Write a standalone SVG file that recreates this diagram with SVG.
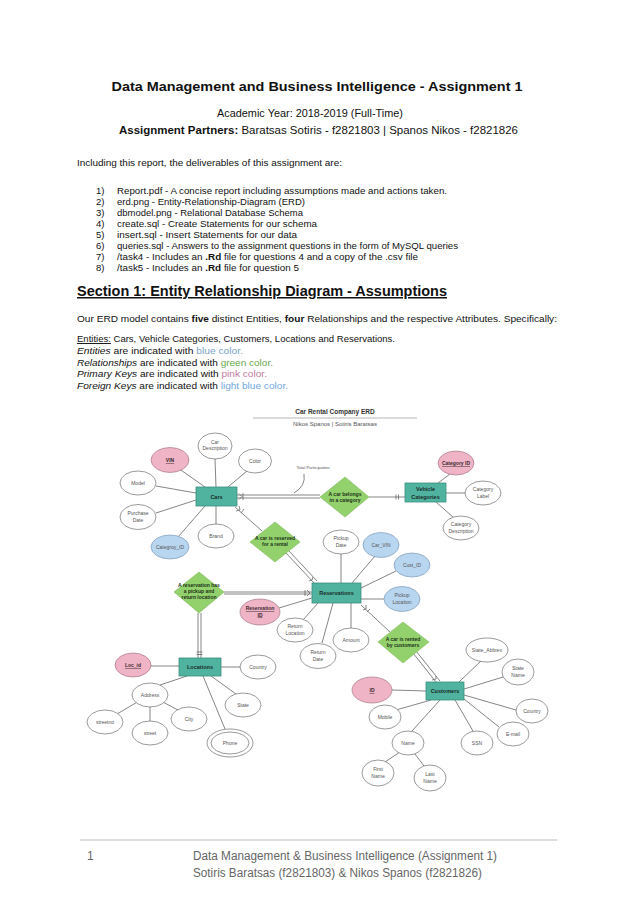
<svg xmlns="http://www.w3.org/2000/svg" width="638" height="903" viewBox="0 0 638 903">
<style>
.t{font-family:"Liberation Sans",Arial,sans-serif;fill:#111}
.b{font-weight:bold}
.li{font-size:9.5px}
.ft{font-family:"Liberation Sans",Arial,sans-serif;fill:#666;font-size:12px}
.ent rect{fill:#4fb3a0;stroke:#3d8f80;stroke-width:0.8}
.ent text{font-family:"Liberation Sans",Arial,sans-serif;font-size:5.5px;font-weight:bold;fill:#1c2b28;text-anchor:middle}
.rel polygon{fill:#93d16c;stroke:#7fbb5a;stroke-width:0.6}
.rel text{font-family:"Liberation Sans",Arial,sans-serif;font-size:5px;font-weight:bold;fill:#20301a;text-anchor:middle}
.att ellipse{fill:#fff;stroke:#555;stroke-width:0.6}
.att text{font-family:"Liberation Sans",Arial,sans-serif;font-size:5px;fill:#555;text-anchor:middle}
.pk ellipse{fill:#f0b4c7;stroke:#9a6a7a}
.pk text{font-weight:bold;fill:#3a2a2f;text-decoration:underline}
.fk ellipse{fill:#b9d6f0;stroke:#6d8fae}
#conn line,#conn path{stroke:#666;stroke-width:0.8;fill:none}
</style>
<rect width="638" height="903" fill="#fff"/>

<g id="header">
<text class="t b" x="317" y="91" font-size="13" text-anchor="middle" textLength="411" lengthAdjust="spacingAndGlyphs">Data Management and Business Intelligence - Assignment 1</text>
<text class="t" x="310" y="116.5" font-size="10.5" text-anchor="middle" textLength="186" lengthAdjust="spacingAndGlyphs">Academic Year: 2018-2019 (Full-Time)</text>
<text class="t" x="119" y="134" font-size="10.5" textLength="399" lengthAdjust="spacingAndGlyphs"><tspan font-weight="bold">Assignment Partners:</tspan> Baratsas Sotiris - f2821803 | Spanos Nikos - f2821826</text>
</g>

<g id="deliverables">
<text class="t li" x="77" y="166" textLength="265" lengthAdjust="spacingAndGlyphs">Including this report, the deliverables of this assignment are:</text>
<text class="t li" x="96" y="194">1)</text>
<text class="t li" x="96" y="205">2)</text>
<text class="t li" x="96" y="216">3)</text>
<text class="t li" x="96" y="227">4)</text>
<text class="t li" x="96" y="238">5)</text>
<text class="t li" x="96" y="249">6)</text>
<text class="t li" x="96" y="260">7)</text>
<text class="t li" x="96" y="271">8)</text>
<text class="t li" x="117" y="194" textLength="330" lengthAdjust="spacingAndGlyphs">Report.pdf - A concise report including assumptions made and actions taken.</text>
<text class="t li" x="117" y="205" textLength="188" lengthAdjust="spacingAndGlyphs">erd.png - Entity-Relationship-Diagram (ERD)</text>
<text class="t li" x="117" y="216" textLength="186" lengthAdjust="spacingAndGlyphs">dbmodel.png - Relational Database Schema</text>
<text class="t li" x="117" y="227" textLength="200" lengthAdjust="spacingAndGlyphs">create.sql - Create Statements for our schema</text>
<text class="t li" x="117" y="238" textLength="180" lengthAdjust="spacingAndGlyphs">insert.sql - Insert Statements for our data</text>
<text class="t li" x="117" y="249" textLength="341" lengthAdjust="spacingAndGlyphs">queries.sql - Answers to the assignment questions in the form of MySQL queries</text>
<text class="t li" x="117" y="260" textLength="301" lengthAdjust="spacingAndGlyphs">/task4 - Includes an <tspan font-weight="bold">.Rd</tspan> file for questions 4 and a copy of the .csv file</text>
<text class="t li" x="117" y="271" textLength="182" lengthAdjust="spacingAndGlyphs">/task5 - Includes an <tspan font-weight="bold">.Rd</tspan> file for question 5</text>
</g>

<g id="section1">
<text class="t b" x="77" y="296" font-size="15" textLength="370" lengthAdjust="spacingAndGlyphs" text-decoration="underline">Section 1: Entity Relationship Diagram - Assumptions</text>
<text class="t li" x="77" y="322" textLength="480" lengthAdjust="spacingAndGlyphs">Our ERD model contains <tspan font-weight="bold">five</tspan> distinct Entities, <tspan font-weight="bold">four</tspan> Relationships and the respective Attributes. Specifically:</text>
<text class="t li" x="77" y="342" textLength="318" lengthAdjust="spacingAndGlyphs"><tspan text-decoration="underline">Entities:</tspan> Cars, Vehicle Categories, Customers, Locations and Reservations.</text>
<text class="t li" x="77" y="354" textLength="166" lengthAdjust="spacingAndGlyphs"><tspan font-style="italic">Entities</tspan> are indicated with <tspan fill="#7aa3c4">blue color.</tspan></text>
<text class="t li" x="77" y="365.5" textLength="196" lengthAdjust="spacingAndGlyphs"><tspan font-style="italic">Relationships</tspan> are indicated with <tspan fill="#6aa84f">green color.</tspan></text>
<text class="t li" x="77" y="377" textLength="190" lengthAdjust="spacingAndGlyphs"><tspan font-style="italic">Primary Keys</tspan> are indicated with <tspan fill="#c27ba0">pink color.</tspan></text>
<text class="t li" x="77" y="388.5" textLength="211" lengthAdjust="spacingAndGlyphs"><tspan font-style="italic">Foreign Keys</tspan> are indicated with <tspan fill="#6fa8dc">light blue color.</tspan></text>
</g>

<g id="erd-title">
<text x="335" y="414" font-family="Liberation Sans, Arial, sans-serif" font-size="6.5" font-weight="bold" fill="#333" text-anchor="middle">Car Rental Company ERD</text>
<line x1="253" y1="418" x2="417" y2="418" stroke="#999" stroke-width="0.7"/>
<text x="335" y="426" font-family="Liberation Sans, Arial, sans-serif" font-size="6" fill="#555" text-anchor="middle">Nikos Spanos  |  Sotiris Baratsas</text>
<text x="313" y="469" font-family="Liberation Sans, Arial, sans-serif" font-size="4.2" fill="#555" text-anchor="middle">Total Participation</text>
</g>

<g id="conn">
<line x1="178" y1="468" x2="205" y2="487"/>
<line x1="215" y1="459" x2="216" y2="487"/>
<line x1="247" y1="471" x2="228" y2="487"/>
<line x1="156" y1="486" x2="196" y2="493"/>
<line x1="156" y1="513" x2="196" y2="500"/>
<line x1="178" y1="537" x2="205" y2="506"/>
<line x1="216" y1="524" x2="216" y2="506"/>
<line x1="450" y1="474" x2="438" y2="483"/>
<line x1="465" y1="493" x2="446" y2="493"/>
<line x1="453" y1="517" x2="436" y2="502"/>
<line x1="341" y1="554" x2="341" y2="583"/>
<line x1="375" y1="556" x2="352" y2="583"/>
<line x1="396" y1="571" x2="361" y2="588"/>
<line x1="384" y1="599" x2="361" y2="599"/>
<line x1="279" y1="608" x2="312" y2="598"/>
<line x1="303" y1="620" x2="318" y2="603"/>
<line x1="322" y1="643" x2="333" y2="603"/>
<line x1="351" y1="628" x2="351" y2="603"/>
<line x1="151" y1="666" x2="179" y2="666"/>
<line x1="240" y1="667" x2="221" y2="667"/>
<line x1="160" y1="685" x2="187" y2="676"/>
<line x1="236" y1="694" x2="211" y2="676"/>
<line x1="225" y1="729" x2="203" y2="676"/>
<line x1="139" y1="701" x2="117" y2="714"/>
<line x1="150" y1="707" x2="150" y2="721"/>
<line x1="161" y1="701" x2="178" y2="710"/>
<line x1="392" y1="690" x2="426" y2="691"/>
<line x1="481" y1="661" x2="459" y2="682"/>
<line x1="503" y1="677" x2="464" y2="689"/>
<line x1="516" y1="710" x2="464" y2="695"/>
<line x1="499" y1="727" x2="464" y2="699"/>
<line x1="473" y1="731" x2="455" y2="700"/>
<line x1="396" y1="710" x2="431" y2="700"/>
<line x1="412" y1="731" x2="440" y2="700"/>
<line x1="400" y1="752" x2="385" y2="762"/>
<line x1="415" y1="754" x2="424" y2="766"/>
<line x1="237" y1="495" x2="320" y2="495"/>
<line x1="237" y1="498" x2="320" y2="498"/>
<path d="M239 493.5 L242 496.5 L239 499.5 M243 493 L243 500"/>
<path d="M304 474 Q306 486 294 493"/>
<line x1="369" y1="497" x2="405" y2="497"/>
<path d="M396 494.5 L396 499.5 M398.5 494.5 L398.5 499.5"/>
<line x1="235" y1="507" x2="262" y2="531"/>
<path d="M236 511 L240 510 L239 506 M241 513 L244 509"/>
<line x1="286" y1="553" x2="314" y2="583"/>
<line x1="289" y1="551" x2="317" y2="581"/>
<path d="M309 581 L312 580 L313 577"/>
<line x1="224" y1="592" x2="312" y2="592"/>
<line x1="224" y1="594" x2="312" y2="594"/>
<path d="M307 590 L310 593 L307 596 M305 590 L305 596"/>
<line x1="198" y1="613" x2="198" y2="658"/>
<line x1="201" y1="613" x2="201" y2="658"/>
<path d="M196.5 652 L202.5 652 M196.5 654.5 L202.5 654.5"/>
<line x1="361" y1="605" x2="390" y2="632"/>
<path d="M363 610 L366 609 L366 605 M367 612 L370 609"/>
<line x1="413" y1="653" x2="436" y2="682"/>
<line x1="416" y1="651" x2="440" y2="681"/>
<path d="M432 680 L436 679 L436 676"/>
</g>

<g id="cars" class="ent"><rect x="196" y="487" width="41" height="19"/><text x="216.5" y="498.5">Cars</text></g>
<g id="vehicle-categories" class="ent"><rect x="405" y="483" width="41" height="19"/><text x="425.5" y="491">Vehicle</text><text x="425.5" y="498.5">Categories</text></g>
<g id="reservations" class="ent"><rect x="312" y="583" width="49" height="20"/><text x="336.5" y="595">Reservations</text></g>
<g id="locations" class="ent"><rect x="179" y="658" width="42" height="18"/><text x="200" y="669">Locations</text></g>
<g id="customers" class="ent"><rect x="426" y="682" width="38" height="18"/><text x="445" y="693">Customers</text></g>

<g id="rel-belongs" class="rel"><polygon points="345,477 369,497 345,517 320,497"/><text x="345" y="495.5">A car belongs</text><text x="345" y="501.5">in a category</text></g>
<g id="rel-reserved" class="rel"><polygon points="275,522 300,542 275,562 250,542"/><text x="275" y="540">A car is reserved</text><text x="275" y="546">for a rental</text></g>
<g id="rel-location" class="rel"><polygon points="199,572 224,592 199,613 174,592"/><text x="199" y="587">A reservation has</text><text x="199" y="593">a pickup and</text><text x="199" y="599">return location</text></g>
<g id="rel-rented" class="rel"><polygon points="403,622 429,642 403,663 378,642"/><text x="403" y="640.5">A car is rented</text><text x="403" y="646.5">by customers</text></g>

<g id="att-vin" class="att pk"><ellipse cx="170" cy="460" rx="19" ry="12.5"/><text x="170" y="462">VIN</text></g>
<g id="att-cardesc" class="att"><ellipse cx="215" cy="446" rx="17" ry="13"/><text x="215" y="444">Car</text><text x="215" y="450">Description</text></g>
<g id="att-color" class="att"><ellipse cx="255" cy="461" rx="16.5" ry="12"/><text x="255" y="463">Color</text></g>
<g id="att-model" class="att"><ellipse cx="138" cy="483" rx="18" ry="12"/><text x="138" y="485">Model</text></g>
<g id="att-purchase" class="att"><ellipse cx="138" cy="517" rx="18" ry="12.5"/><text x="138" y="515">Purchase</text><text x="138" y="521.5">Date</text></g>
<g id="att-catid" class="att fk"><ellipse cx="170" cy="547" rx="19" ry="12"/><text x="170" y="549">Categroy_ID</text></g>
<g id="att-brand" class="att"><ellipse cx="216" cy="536" rx="18" ry="12"/><text x="216" y="538">Brand</text></g>

<g id="att-categoryid" class="att pk"><ellipse cx="456" cy="463" rx="18" ry="12"/><text x="456" y="465">Category ID</text></g>
<g id="att-catlabel" class="att"><ellipse cx="483" cy="493" rx="18" ry="12"/><text x="483" y="491">Category</text><text x="483" y="497.5">Label</text></g>
<g id="att-catdesc" class="att"><ellipse cx="461" cy="528" rx="18" ry="12"/><text x="461" y="526">Category</text><text x="461" y="532.5">Description</text></g>

<g id="att-pickupdate" class="att"><ellipse cx="341" cy="542" rx="18" ry="12"/><text x="341" y="540">Pickup</text><text x="341" y="546.5">Date</text></g>
<g id="att-carvin" class="att fk"><ellipse cx="381" cy="545" rx="18" ry="12.5"/><text x="381" y="547">Car_VIN</text></g>
<g id="att-custid" class="att fk"><ellipse cx="412" cy="565" rx="18" ry="12"/><text x="412" y="567">Cust_ID</text></g>
<g id="att-pickuploc" class="att fk"><ellipse cx="402" cy="599" rx="18" ry="12.5"/><text x="402" y="597">Pickup</text><text x="402" y="603.5">Location</text></g>
<g id="att-resid" class="att pk"><ellipse cx="260" cy="612" rx="20" ry="13"/><text x="260" y="610">Reservation</text><text x="260" y="616.5">ID</text></g>
<g id="att-retloc" class="att"><ellipse cx="295" cy="630" rx="18" ry="12"/><text x="295" y="628">Return</text><text x="295" y="634.5">Location</text></g>
<g id="att-retdate" class="att"><ellipse cx="318" cy="656" rx="18" ry="12.5"/><text x="318" y="654">Return</text><text x="318" y="660.5">Date</text></g>
<g id="att-amount" class="att"><ellipse cx="351" cy="640" rx="18" ry="12"/><text x="351" y="642">Amount</text></g>

<g id="att-locid" class="att pk"><ellipse cx="133" cy="665" rx="18" ry="12"/><text x="133" y="667">Loc_id</text></g>
<g id="att-loccountry" class="att"><ellipse cx="258" cy="667" rx="18" ry="12"/><text x="258" y="669">Country</text></g>
<g id="att-address" class="att"><ellipse cx="150" cy="695" rx="18" ry="12"/><text x="150" y="697">Address</text></g>
<g id="att-state" class="att"><ellipse cx="243" cy="705" rx="18" ry="12"/><text x="243" y="707">State</text></g>
<g id="att-streetno" class="att"><ellipse cx="105" cy="722" rx="18" ry="12"/><text x="105" y="724">streetno</text></g>
<g id="att-street" class="att"><ellipse cx="150" cy="733" rx="18" ry="12"/><text x="150" y="735">street</text></g>
<g id="att-city" class="att"><ellipse cx="189" cy="719" rx="18" ry="12"/><text x="189" y="721">City</text></g>
<g id="att-phone" class="att"><ellipse cx="230" cy="743" rx="23" ry="14"/><ellipse cx="230" cy="743" rx="19" ry="11"/><text x="230" y="745">Phone</text></g>

<g id="att-id" class="att pk"><ellipse cx="372" cy="690" rx="20" ry="13"/><text x="372" y="692">ID</text></g>
<g id="att-stateabbrev" class="att"><ellipse cx="487" cy="650" rx="21" ry="12"/><text x="487" y="652">State_Abbrev</text></g>
<g id="att-statename" class="att"><ellipse cx="518" cy="672" rx="16" ry="13"/><text x="518" y="670">State</text><text x="518" y="676.5">Name</text></g>
<g id="att-country" class="att"><ellipse cx="532" cy="711" rx="16" ry="12"/><text x="532" y="713">Country</text></g>
<g id="att-email" class="att"><ellipse cx="513" cy="734" rx="16" ry="12"/><text x="513" y="736">E-mail</text></g>
<g id="att-ssn" class="att"><ellipse cx="477" cy="743" rx="16" ry="12"/><text x="477" y="745">SSN</text></g>
<g id="att-mobile" class="att"><ellipse cx="385" cy="717" rx="16" ry="12"/><text x="385" y="719">Mobile</text></g>
<g id="att-name" class="att"><ellipse cx="408" cy="743" rx="16" ry="12"/><text x="408" y="745">Name</text></g>
<g id="att-firstname" class="att"><ellipse cx="378" cy="773" rx="16" ry="13"/><text x="378" y="771">First</text><text x="378" y="777.5">Name</text></g>
<g id="att-lastname" class="att"><ellipse cx="430" cy="778" rx="16" ry="13"/><text x="430" y="776">Last</text><text x="430" y="782.5">Name</text></g>

<g id="footer">
<line x1="80" y1="840" x2="557" y2="840" stroke="#bbb" stroke-width="1"/>
<text class="ft" x="87" y="860">1</text>
<text class="ft" x="193" y="860" textLength="304" lengthAdjust="spacingAndGlyphs">Data Management &amp; Business Intelligence (Assignment 1)</text>
<text class="ft" x="193" y="877" textLength="289" lengthAdjust="spacingAndGlyphs">Sotiris Baratsas (f2821803) &amp; Nikos Spanos (f2821826)</text>
</g>
</svg>
